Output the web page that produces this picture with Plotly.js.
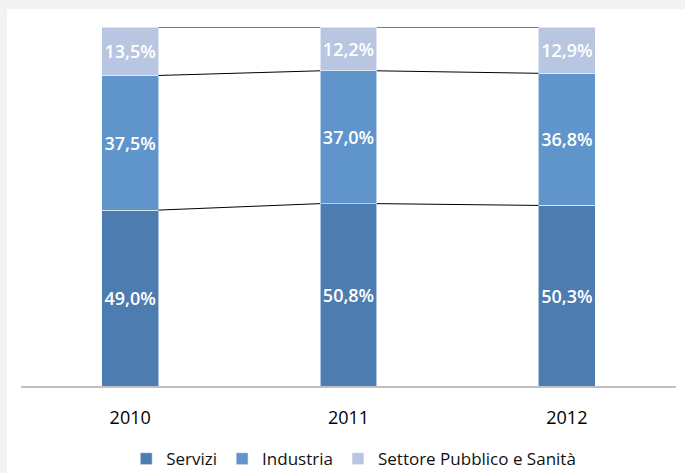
<!DOCTYPE html>
<html>
<head>
<meta charset="utf-8">
<script src="https://cdn.plot.ly/plotly-3.0.1.min.js"></script>
<style>
  html, body { margin: 0; padding: 0; background: #f2f3f5; width: 685px; height: 473px; overflow: hidden; }
  #chart { position: absolute; left: 7px; top: 9px; width: 678px; height: 464px; background: #ffffff; }
</style>
</head>
<body>
<div id="chart"></div>
<script>
// ---- data ----
var years = ['2010', '2011', '2012'];
var servizi = [49.0, 50.8, 50.3];
var industria = [37.5, 37.0, 36.8];
var settore = [13.5, 12.2, 12.9];
var seriesNames = ['Servizi', 'Industria', 'Settore Pubblico e Sanità'];
var seriesColors = ['#4d7cb1', '#5f95cb', '#b8c6e1'];

var barWidth = 0.26;
var xpos = years.map(function (_, i) { return i; });
var seriesVals = [servizi, industria, settore];

var traces = [];
seriesVals.forEach(function (vals, k) {
  traces.push({
    type: 'bar',
    name: seriesNames[k],
    x: xpos,
    y: vals,
    width: barWidth,
    marker: { color: seriesColors[k], line: { color: 'rgba(255,255,255,0.55)', width: 1 } },
    texttemplate: '%{y:.1f}%',
    textposition: 'inside',
    insidetextanchor: 'middle',
    textangle: 0,
    constraintext: 'none',
    textfont: { color: '#ffffff', size: 18, family: 'Open Sans, sans-serif', weight: 600 },
    hoverinfo: 'skip'
  });
});

// series lines connecting the tops of each segment between bar edges
var cum = years.map(function () { return 0; });
seriesVals.forEach(function (vals) {
  cum = cum.map(function (c, i) { return c + vals[i]; });
  var lx = [], ly = [];
  for (var i = 0; i < years.length - 1; i++) {
    lx.push(xpos[i] + barWidth / 2, xpos[i + 1] - barWidth / 2, null);
    ly.push(cum[i], cum[i + 1], null);
  }
  traces.push({
    type: 'scatter',
    mode: 'lines',
    x: lx,
    y: ly,
    line: { color: '#000000', width: 1 },
    showlegend: false,
    hoverinfo: 'skip'
  });
});

var layout = {
  width: 678,
  height: 464,
  margin: { l: 14, r: 9, t: 18, b: 87, autoexpand: false },
  paper_bgcolor: '#ffffff',
  plot_bgcolor: '#ffffff',
  barmode: 'stack',
  separators: ',.',
  showlegend: true,
  font: { family: 'Open Sans, sans-serif', color: '#000000' },
  xaxis: {
    range: [-0.5, years.length - 0.5],
    tickmode: 'array',
    tickvals: xpos,
    ticktext: years,
    showgrid: false,
    zeroline: false,
    showline: true,
    linecolor: '#c0c0c0',
    linewidth: 2,
    ticks: '',
    ticklabelstandoff: 14,
    tickfont: { size: 18, color: '#000000', family: 'Open Sans, sans-serif', weight: 500 },
    fixedrange: true
  },
  yaxis: {
    range: [0, 100],
    visible: false,
    fixedrange: true
  },
  legend: {
    orientation: 'h',
    x: 0.508,
    xanchor: 'center',
    yref: 'container',
    y: 0.03,
    yanchor: 'middle',
    traceorder: 'normal',
    font: { size: 17, color: '#111111', family: 'Open Sans, sans-serif' },
    itemwidth: 30
  }
};

Plotly.newPlot('chart', traces, layout, { displayModeBar: false, staticPlot: true });
</script>
</body>
</html>
